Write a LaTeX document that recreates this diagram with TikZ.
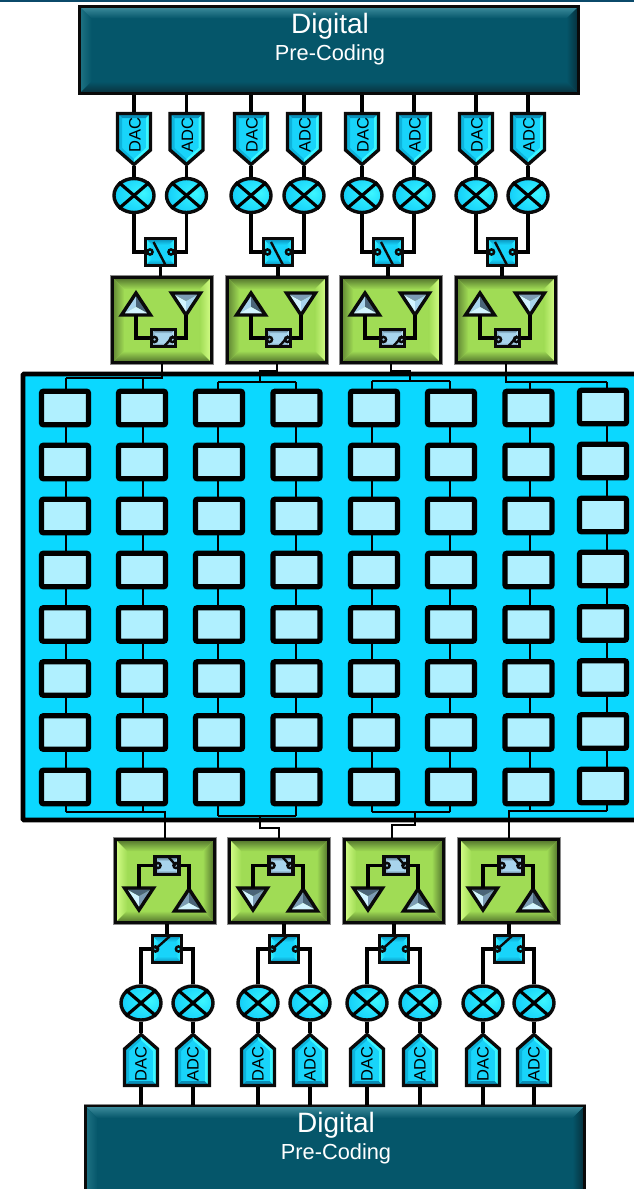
\documentclass[tikz,border=0pt]{standalone}
\usepackage{fontspec}
\setmainfont{Liberation Sans}
\usetikzlibrary{shapes.geometric,calc}
\definecolor{ink}{HTML}{0A0A0A}
\definecolor{halo}{HTML}{8A8A8A}
\definecolor{topbar}{HTML}{0B4A6A}
\definecolor{tealB}{HTML}{05566A}
\definecolor{tealT}{HTML}{3F8E9E}
\definecolor{tealL}{HTML}{1F7384}
\definecolor{tealR}{HTML}{062E3A}
\definecolor{tealD}{HTML}{0A2F3A}
\definecolor{grnB}{HTML}{A0DC55}
\definecolor{grnD}{HTML}{4E6E2A}
\definecolor{grnM}{HTML}{5E8432}
\definecolor{grnH}{HTML}{D6FF8A}
\definecolor{panelC}{HTML}{0BD8FF}
\definecolor{cellC}{HTML}{B0F0FF}
\definecolor{cyB}{HTML}{18D4FA}
\definecolor{cyD}{HTML}{0A8FB8}
\definecolor{cyM}{HTML}{0EB4DC}
\definecolor{cyH}{HTML}{3CF6FF}
\definecolor{slB}{HTML}{A8D4EC}
\definecolor{slD}{HTML}{4A6478}
\definecolor{slM}{HTML}{7C9CB4}
\definecolor{slH}{HTML}{D2F4FF}
\pgfdeclareradialshading{mixball}{\pgfpoint{12bp}{4bp}}{color(0bp)=(cyH); color(26bp)=(cyB); color(44bp)=(cyD); color(50bp)=(slD)}
\tikzset{
  bev/.style n args={6}{fill=#2, path picture={
    \coordinate (A) at (path picture bounding box.north west);
    \coordinate (B) at (path picture bounding box.north east);
    \coordinate (C) at (path picture bounding box.south east);
    \coordinate (D) at (path picture bounding box.south west);
    \coordinate (a) at ([shift={(#1pt,-#1pt)}]A);
    \coordinate (b) at ([shift={(-#1pt,-#1pt)}]B);
    \coordinate (c) at ([shift={(-#1pt,#1pt)}]C);
    \coordinate (d) at ([shift={(#1pt,#1pt)}]D);
    \shade[top color=#3,bottom color=#2] (A)--(B)--(b)--(a)--cycle;
    \shade[left color=#4,right color=#2] (A)--(a)--(d)--(D)--cycle;
    \shade[left color=#2,right color=#5] (B)--(b)--(c)--(C)--cycle;
    \shade[top color=#2,bottom color=#6] (D)--(d)--(c)--(C)--cycle;
  }},
  boxbase/.style={rectangle,draw=ink,inner sep=0pt,preaction={draw=halo,line width=3.6pt}},
  digitalbox/.style={boxbase,line width=2.8pt,minimum width=499pt,bev={12}{tealB}{tealT}{tealL}{tealR}{tealD}},
  greentop/.style={boxbase,line width=2.6pt,minimum width=99.5pt,minimum height=85.5pt,bev={12}{grnB}{grnD}{grnM}{grnH}{grnD}},
  greenbot/.style={boxbase,line width=2.6pt,minimum width=99.5pt,minimum height=83.5pt,bev={12}{grnB}{grnD}{grnH}{grnD}{grnD}},
  bigswitch/.style={rectangle,draw=ink,line width=3.4pt,inner sep=0pt,minimum width=29.5pt,minimum height=26.5pt,bev={6}{cyB}{cyD}{cyH}{cyH}{cyD}},
  smallswitch/.style={rectangle,draw=ink,line width=3.2pt,inner sep=0pt,minimum width=24pt,minimum height=17.5pt,bev={4}{slB}{slD}{slM}{slH}{slD}},
  mixer/.style={ellipse,draw=ink,line width=3.4pt,inner sep=0pt,minimum width=40pt,minimum height=34pt,shading=mixball},
  cell/.style={rectangle,draw=black,line width=5.3pt,rounded corners=2pt,inner sep=0pt,minimum width=47pt,minimum height=33.5pt,fill=cellC},
  panelbox/.style={rectangle,draw=black,line width=4.8pt,rounded corners=1pt,inner sep=0pt,fill=panelC,minimum width=627pt,minimum height=446pt},
  anchorbox/.style={rectangle,inner sep=0pt,outer sep=0pt,minimum width=35pt,minimum height=54pt},
  dactext/.style={rotate=90,inner sep=0pt,text=black,font=\fontsize{16.5}{16.5}\selectfont},
  bigtext/.style={inner sep=0pt,text=white,font=\fontsize{28}{28}\selectfont},
  subtext/.style={inner sep=0pt,text=white,font=\fontsize{21.8}{22}\selectfont},
  wire/.style={draw=black,line width=3.6pt},
  midwire/.style={draw=black,line width=3.2pt},
  thinwire/.style={draw=black,line width=1.9pt},
  levers/.style={draw=ink,line width=2.4pt},
}
% pentagon converter: #1 x, #2 y of flat end, #3 direction
\newcommand{\pentagonshape}[3]{%
  \begin{scope}[shift={(#1,#2)},yscale=#3]
    \fill[cyB] (-16.5,1.5)--(16.5,1.5)--(16.5,38)--(0,52.5)--(-16.5,38)--cycle;
    \fill[cyD] (-16.5,1.5)--(16.5,1.5)--(12,6)--(-12,6)--cycle;
    \fill[cyM] (-16.5,1.5)--(-12,6)--(-12,36)--(-16.5,38)--cycle;
    \fill[cyH] (16.5,1.5)--(12,6)--(12,36)--(16.5,38)--cycle;
    \fill[cyM] (-16.5,38)--(-12,36)--(0,47)--(0,52.5)--cycle;
    \fill[cyH] (16.5,38)--(12,36)--(0,47)--(0,52.5)--cycle;
    \draw[ink,line width=3.4pt,line join=miter] (-16.5,1.5)--(16.5,1.5)--(16.5,38)--(0,52.5)--(-16.5,38)--cycle;
  \end{scope}}
% antenna triangle: #1 name, #2 x, #3 apex y, #4 direction, #5 #6 #7 facets
\newcommand{\antenna}[7]{%
  \begin{scope}[shift={(#2,#3)},yscale=#4]
    \fill[#5] (0,0)--(-14.5,22)--(0,14)--cycle;
    \fill[#6] (0,0)--(14.5,22)--(0,14)--cycle;
    \fill[#7] (-14.5,22)--(14.5,22)--(0,14)--cycle;
    \draw[ink,line width=3.4pt,line join=miter,miter limit=10] (0,0)--(14.5,22)--(-14.5,22)--cycle;
    \coordinate (#1a) at (0,0);
    \coordinate (#1b) at (0,22);
  \end{scope}}
% switch marks: #1 node, #2 dx, #3 circle dy, #4 #5 lever start, #6 #7 lever end
\newcommand{\switchmarks}[7]{%
  \draw[levers] (#1.west) -- ([shift={(-#2pt-3pt,-#3pt)}]#1.center);
  \draw[levers] (#1.east) -- ([shift={(#2pt+3pt,-#3pt)}]#1.center);
  \draw[levers] ([shift={(#2pt,-#3pt)}]#1.center) circle[radius=2.6pt];
  \draw[levers] ([shift={(-#2pt,-#3pt)}]#1.center) circle[radius=2.6pt];
  \draw[levers] ([shift={(#4pt,-#5pt)}]#1.center) -- ([shift={(#6pt,-#7pt)}]#1.center);}
\begin{document}
\begin{tikzpicture}[x=1pt,y=-1pt]
\useasboundingbox (0,0) rectangle (634,1189);
\clip (0,0) rectangle (634,1189);
\fill[white] (0,0) rectangle (634,1189);
\fill[topbar] (0,0) rectangle (634,1.6);

% panel and cells
\node[panelbox] (panel) at (336.5,597) {};
\foreach \c/\cx/\dy in {1/65/0,2/142/0,3/219/0,4/296.5/0,5/374/0,6/451/0,7/528.5/0,8/603/-1}
  \foreach \r/\ry in {1/408,2/462,3/516,4/570,5/624.5,6/678.5,7/732.5,8/787}
    \node[cell] (c\c-\r) at (\cx,\ry+\dy) {};

% wire columns inside the panel
\foreach \c/\wx/\ty/\by in {1/66/378/812,2/143/378/812,3/218/382/816,4/296/382/816,5/372/381/812,6/450/381/812,7/530/382/811,8/607/382/811}{
  \coordinate (tw\c) at (\wx,\ty);
  \coordinate (bw\c) at (\wx,\by);
  \draw[thinwire] (tw\c) -- (tw\c |- c\c-1.north);
  \draw[thinwire] (bw\c) -- (bw\c |- c\c-8.south);
  \foreach \r [evaluate=\r as \n using int(\r+1)] in {1,...,7}
    \draw[thinwire] (tw\c |- c\c-\r.south) -- (tw\c |- c\c-\n.north);
}

% top digital block
\node[digitalbox,minimum height=87pt] (dt) at (329,50) {};
\node[bigtext] (dtA) at (330,26.5) {Digital};
\node[subtext] (dtB) at (330,55) {Pre-Coding};

% top chains
\foreach \i/\a/\b/\s/\L in {1/134/186.5/160.5/111,2/251/304/278/226,3/362/414/388/340,4/476/528/502/455}{
  \pentagonshape{\a}{112}{1}
  \pentagonshape{\b}{112}{1}
  \node[anchorbox] (da\i) at (\a,139) {};
  \node[anchorbox] (db\i) at (\b,139) {};
  \node[dactext] (dat\i) at (\a+1,135) {DAC};
  \node[dactext] (dbt\i) at (\b+1,135) {ADC};
  \node[mixer] (ma\i) at (\a,195.5) {};
  \node[mixer] (mb\i) at (\b,195.5) {};
  \draw[midwire] (ma\i.north west) -- (ma\i.south east);
  \draw[midwire] (ma\i.north east) -- (ma\i.south west);
  \draw[midwire] (mb\i.north west) -- (mb\i.south east);
  \draw[midwire] (mb\i.north east) -- (mb\i.south west);
  \node[bigswitch] (sw\i) at (\s,252) {};
  \node[greentop] (gt\i) at (\L+51,320) {};
  \antenna{antU\i}{\L+25}{293}{1}{slB}{slD}{slH}
  \antenna{antD\i}{\L+75}{315}{-1}{slH}{slB}{slM}
  \node[smallswitch] (ss\i) at (\L+52.5,338) {};
  \draw[wire] (da\i.north) -- (da\i.north |- dt.south);
  \draw[wire] (db\i.north) -- (db\i.north |- dt.south);
  \draw[wire] (da\i.south) -- (ma\i.north);
  \draw[wire] (db\i.south) -- (mb\i.north);
  \draw[midwire] (ma\i.south) |- (sw\i.west);
  \draw[midwire] (mb\i.south) |- (sw\i.east);
  \draw[wire] (sw\i.south) -- (sw\i.south |- gt\i.north);
  \draw[midwire] (antU\i b) |- (ss\i.west);
  \draw[midwire] (antD\i a) |- (ss\i.east);
  \switchmarks{sw\i}{10.5}{0}{-7}{-10}{5}{13}
  \switchmarks{ss\i}{9}{1.5}{1}{8}{10}{-2}
}

% top connectors into the panel
\coordinate (jt2a) at (260,371);
\coordinate (jt2b) at (260,382);
\coordinate (jt3a) at (410,371);
\coordinate (jt3b) at (410,381);
\draw[thinwire] (gt1.south) |- (tw1);
\draw[thinwire] (gt2.south) |- (jt2a) -- (jt2b);
\draw[thinwire] (tw3) -- (tw4);
\draw[thinwire] (gt3.south) |- (jt3a) -- (jt3b);
\draw[thinwire] (tw5) -- (tw6);
\draw[thinwire] (gt4.south) |- (tw7) -- (tw8);

% bottom digital block
\node[digitalbox,minimum height=110pt] (dbot) at (335,1161) {};
\node[bigtext] (dbA) at (336,1125.5) {Digital};
\node[subtext] (dbB) at (336,1154) {Pre-Coding};

% bottom chains
\foreach \i/\a/\b/\s/\L in {1/141/193/167/114,2/258/310/284/228,3/367/420/394/343,4/483/534/509/458}{
  \pentagonshape{\a}{1087}{-1}
  \pentagonshape{\b}{1087}{-1}
  \node[anchorbox] (ea\i) at (\a,1060) {};
  \node[anchorbox] (eb\i) at (\b,1060) {};
  \node[dactext] (eat\i) at (\a,1064) {DAC};
  \node[dactext] (ebt\i) at (\b,1064) {ADC};
  \node[mixer] (na\i) at (\a,1003) {};
  \node[mixer] (nb\i) at (\b,1003) {};
  \draw[midwire] (na\i.north west) -- (na\i.south east);
  \draw[midwire] (na\i.north east) -- (na\i.south west);
  \draw[midwire] (nb\i.north west) -- (nb\i.south east);
  \draw[midwire] (nb\i.north east) -- (nb\i.south west);
  \node[bigswitch] (bs\i) at (\s,949) {};
  \node[greenbot] (gb\i) at (\L+51,881) {};
  \antenna{antV\i}{\L+75}{889}{1}{slM}{slD}{slH}
  \antenna{antW\i}{\L+25}{910}{-1}{slH}{slM}{slD}
  \node[smallswitch] (st\i) at (\L+53,865.5) {};
  \draw[wire] (ea\i.south) -- (ea\i.south |- dbot.north);
  \draw[wire] (eb\i.south) -- (eb\i.south |- dbot.north);
  \draw[wire] (ea\i.north) -- (na\i.south);
  \draw[wire] (eb\i.north) -- (nb\i.south);
  \draw[midwire] (na\i.north) |- (bs\i.west);
  \draw[midwire] (nb\i.north) |- (bs\i.east);
  \draw[wire] (bs\i.north) -- (bs\i.north |- gb\i.south);
  \draw[midwire] (antW\i b) |- (st\i.west);
  \draw[midwire] (antV\i a) |- (st\i.east);
  \switchmarks{bs\i}{11.5}{0}{3}{-13}{-11.5}{0}
  \switchmarks{st\i}{9}{0}{2}{-8}{9}{0}
}

% bottom connectors out of the panel
\coordinate (jb2a) at (260,816);
\coordinate (jb2b) at (260,828);
\coordinate (jb3a) at (415,812);
\coordinate (jb3b) at (415,825);
\draw[thinwire] (bw1) -- (bw2) -| (gb1.north);
\draw[thinwire] (bw3) -- (bw4);
\draw[thinwire] (jb2a) -- (jb2b) -| (gb2.north);
\draw[thinwire] (bw5) -- (bw6);
\draw[thinwire] (jb3a) -- (jb3b) -| ([xshift=-2pt]gb3.north);
\draw[thinwire] (gb4.north) |- (bw7) -- (bw8);
\end{tikzpicture}
\end{document}
